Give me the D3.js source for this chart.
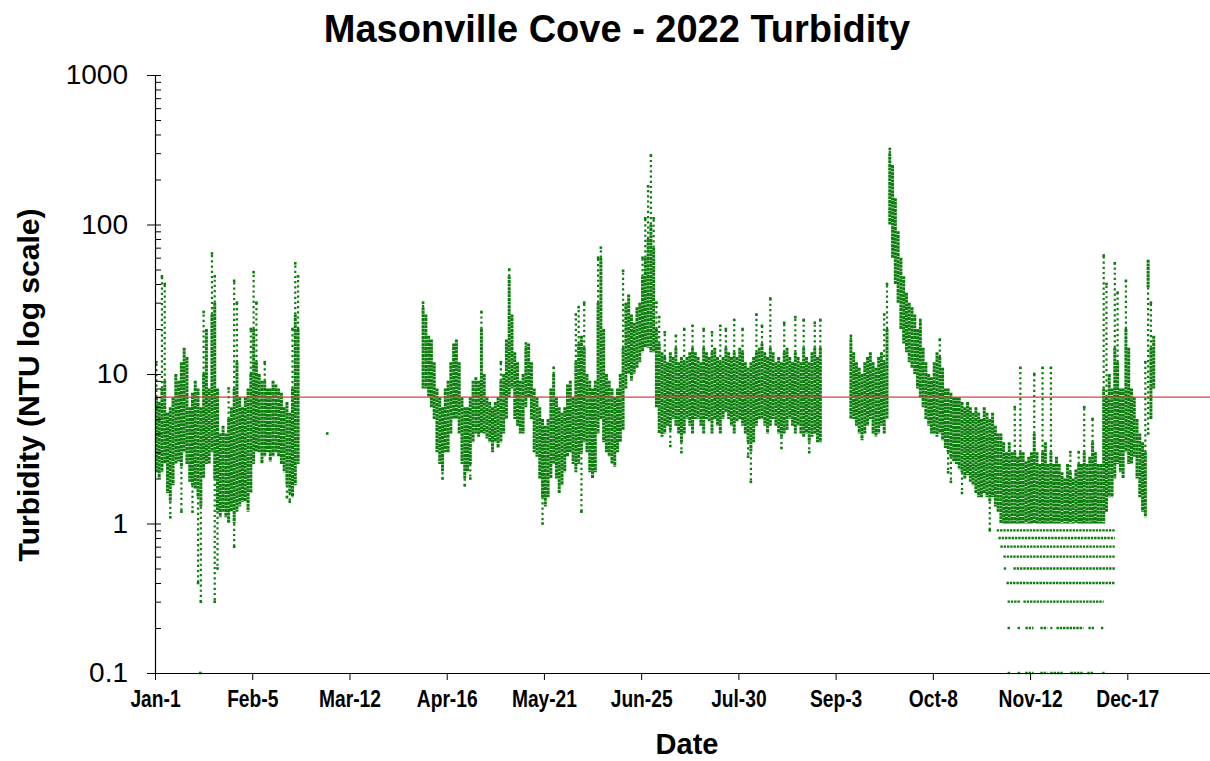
<!DOCTYPE html>
<html><head><meta charset="utf-8">
<script src="https://cdn.jsdelivr.net/npm/d3@7"></script>
<style>body{margin:0;background:#fff}</style>
</head><body>
<svg id="chart" width="1210" height="761"></svg>
<script>
// ---------- data ----------
const titleText = "Masonville Cove - 2022 Turbidity";
const xTitle = "Date";
const yTitle = "Turbidity (NTU log scale)";
const xTickDays = [0, 35, 70, 105, 140, 175, 210, 245, 280, 315, 350];
const xTickLabels = ["Jan-1", "Feb-5", "Mar-12", "Apr-16", "May-21", "Jun-25", "Jul-30", "Sep-3", "Oct-8", "Nov-12", "Dec-17"];
const yTickValues = [0.1, 1, 10, 100, 1000];
const yTickLabels = ["0.1", "1", "10", "100", "1000"];
const threshold = 7;

// daily dense range (low / high NTU), segment A starts Jan-1 (day 0)
const segAStart = 0;
const segALow  = [2.2,2.0,2.2,2.5,1.6,1.4,1.8,2.5,2.6,2.4,3,2.5,1.9,1.8,1.7,1.5,1.3,2,2.5,2.5,3,2,1.2,1.1,1.2,1.1,1.0,1.2,1.0,1.2,1.3,1.4,1.4,1.2,1.6,2.5,3,3,2.5,2.8,3,2.6,2.8,3,2.8,2.5,2.2,1.8,1.6,1.5,1.8,2.5];
const segAHigh = [7,6.5,8,9,5.5,6,7,10,9,12,15,13,6,7.5,9,8,6,10,20,8,25,30,8,4,4.5,4,5,6,8,12,7,6,7,8,10,20,12,10,9,9,8,8,9,8.5,8,7.5,6,6.5,5.5,8,25,20];

// segment B starts day 96 (early April)
const segBStart = 96;
const segBLow  = [8,8,7,6,5,3,2.5,2.2,3,3,4,5,5,4,2.5,2.0,2.2,2.5,3.5,4,3.8,4,4,3.7,3.5,3,3.5,3.2,3.5,4,5,7,8,5,4.5,4,4,6,7,5,3,2.8,2,1.5,1.3,1.5,2,2.5,2,1.6,1.8,2.2,2.8,3,2.5,2.2,2.5,3,3.5,3,2.2,2,2.2,4,5,3.5,3,2.8,2.5,2.4,3,3.5,4.2,8,10,9,10,11,12,14,15,15,14,14,6];
const segBHigh = [28,25,18,17,12,8,7,6,8,9,12,16,17,12,7,6,6,7,9,9.5,9,20,10,7,6.5,6,6.5,7,9,10,17,45,25,14,12,9,10,15,16,12,8,7,6,5,4.5,5,8,10,7,6,5.5,6,8.5,9,7,12,16,18,15,10,9,8,9,30,60,20,10,9,8,7,8,10,15,30,34,25,22,28,30,45,60,80,100,70,20];

// segment C starts day 181 (summer)
const segCStart = 181;
const segCLow  = [4,3.8,4,4.5,4.2,5,4.5,4,3.5,4,5,4.5,4,5,5,4.5,4,5,4.8,4,5,4.5,4,5,5.5,5,4.5,4,4.8,5,4.5,4,3.5,3,3.5,4.5,5,5,4.5,4,4.5,5,4.5,4,3.8,4,4.2,5,4.5,4,4.5,4,3.8,4,3.5,3.8,4,3.5,3.5];
const segCHigh = [16,14,13,12,14,13,15,12,13,12,13,14,15,14,13,12,15,14,13,14,15,13,12,13,15,14,13,14,13,15,14,12,11,12,13,14,15,16,14,13,15,14,12,13,12,14,15,13,12,14,13,12,15,13,12,14,15,13,15];

// segment D starts day 250 (September to December)
const segDStart = 250;
const segDLow  = [5,5,4.5,4,3.6,4,4.5,5,4,3.8,4,4.5,4,5,100,60,40,30,20,16,14,12,11,10,8,7,6,5,4.5,4,4,3.8,4,3.6,3.2,3,2.8,2.6,2.5,2.3,2.2,2.0,2.1,1.9,1.8,1.6,1.5,1.5,1.6,1.5,1.4,1.5,1.3,1.2,
  1,1,1,1,1,1,1,1,1,1,1,1,1,1,1,1,1,1,1,1,1,1,1,1,1,1,1,1,1,1,1,1,1,1,1,1,1,1.0,1.2,1.5,1.5,2,2.5,2.2,2,3,2.5,2.5,2.8,2,1.5,1.2,1.1,38,5,8];
const segDHigh = [17,14,12,11,10,12,13,14,12,11,13,14,12,20,300,250,150,90,60,45,35,30,28,25,20,22,15,12,10,9.5,12,14,13,11,8,8,7.5,7,7,7,6.5,6,6.5,6,5.5,6,5.5,5,6,5.5,5,5.5,4.5,4,
  4,3.5,3,3.5,3,3,2.8,3,3,2.6,2.8,3,4,3,2.5,3,3.5,2.5,3,2.5,2.8,2.5,2.2,2,2.5,2.2,2,2.3,2.5,2.5,3,2.5,2.8,3.5,3,2.5,2.5,8,7,10,8,15,12,8,8,20,15,8,7,5,4,3.5,3,58,15,18];

// sparse excursions beyond the dense range: [day, NTU]
const spikes = [[0,12],[2,45],[3,40],[5,1.1],[9,1.2],[13,1.2],[15,0.4],[16,0.3],[17,26],[20,64],[21,45],[21,0.3],[22,0.5],[26,8],[28,42],[28,0.7],[29,30],[34,20],[35,48],[36,30],[39,12],[47,1.5],[48,1.4],[49,20],[50,55],[51,45],
  [96,30],[103,2.0],[111,1.8],[113,2.0],[117,26],[124,12],[127,50],[133,16],[139,1.0],[143,11],[151,25],[152,28],[153,1.2],[154,30],[159,60],[160,70],[168,49],[175,60],[176,110],[177,180],[178,290],[179,110],[180,30],
  [181,24],[183,19],[185,3.3],[187,18],[189,3.0],[190,20],[193,21],[197,20],[200,19],[203,21],[205,20],[208,23],[211,20],[213,2.8],[214,1.9],[216,25],[218,21],[221,32],[225,3.2],[226,22],[230,24],[233,23],[235,3.0],[237,22],[239,23],
  [250,18],[262,25],[263,40],[264,320],[275,23],[282,17],[285,2.2],[286,1.9],[290,1.6],[300,0.9],[309,6],[311,11],[316,10],[319,11],[322,11],[329,3],[332,3],[334,6],[337,5],[341,62],[342,40],[345,55],[346,35],[349,42],[356,12],[357,4],[358,30]];

// isolated single readings: [day, NTU]
const singles = [[15.8, 0.1], [61.5, 4.0]];

// rows of readings rounded to 0.1 NTU in Nov-Dec: [NTU, fromDay, toDay]
const quantRows = [
  [0.9,303,345.5],[0.8,303.6,345.5],[0.7,304.3,345.5],[0.6,305.4,345.5],
  [0.5,305.5,306.5],[0.5,309,345.5],[0.4,306.5,345.5],
  [0.3,306.9,311.5],[0.3,312.6,341.5],
  [0.2,306.9,308],[0.2,310.5,311.5],[0.2,313.3,316.2],[0.2,318.7,321.2],[0.2,322.3,323],[0.2,324.5,334.2],[0.2,336,338],[0.2,340.5,341.5],
  [0.1,306.9,307.9],[0.1,310.5,311.5],[0.1,313.3,316.2],[0.1,318.7,321.2],[0.1,322.3,327],[0.1,329.5,334.2],[0.1,335.6,337.8],[0.1,341,342]
];

// ---------- drawing ----------
const GREEN = "#0b7d0b";
const FONT = "Liberation Sans, Arial, sans-serif";
const svg = d3.select("#chart");
const x = d3.scaleLinear().domain([0, 380]).range([155, 155 + 380 * 2.778]);
const y = d3.scaleLog().domain([0.1, 1000]).range([673, 75]);

function buildDays(start, lo, hi) {
  return lo.map((l, i) => ({ day: start + i, lo: l, hi: hi[i] }));
}
const days = [].concat(
  buildDays(segAStart, segALow, segAHigh),
  buildDays(segBStart, segBLow, segBHigh),
  buildDays(segCStart, segCLow, segCHigh),
  buildDays(segDStart, segDLow, segDHigh)
);
const dayMap = new Map(days.map(d => [d.day, d]));

const plot = svg.append("g");

// quantized rows
plot.selectAll("line.row").data(quantRows).join("line")
  .attr("x1", d => x(d[1])).attr("x2", d => x(d[2]))
  .attr("y1", d => y(d[0])).attr("y2", d => y(d[0]))
  .attr("stroke", GREEN).attr("stroke-width", 2.4).attr("stroke-dasharray", "2.4 0.9");

// sparse excursions
plot.selectAll("line.spike").data(spikes).join("line")
  .attr("x1", d => x(d[0] + 0.5)).attr("x2", d => x(d[0] + 0.5))
  .attr("y1", d => { const r = dayMap.get(d[0]); return y(d[1] > r.hi ? r.hi : r.lo); })
  .attr("y2", d => y(d[1]))
  .attr("stroke", GREEN).attr("stroke-width", 2.2).attr("stroke-dasharray", "2.2 3");
plot.selectAll("rect.tip").data(spikes.concat(singles)).join("rect")
  .attr("x", d => x(d[0] + 0.5) - 1.3).attr("y", d => y(d[1]) - 1.3)
  .attr("width", 2.6).attr("height", 2.6).attr("fill", GREEN);

// dense daily ranges
plot.selectAll("line.core").data(days).join("line")
  .attr("x1", d => x(d.day + 0.5)).attr("x2", d => x(d.day + 0.5))
  .attr("y1", d => y(d.hi)).attr("y2", d => y(d.lo))
  .attr("stroke", GREEN).attr("stroke-width", 3).attr("stroke-dasharray", "3 0.6");

// threshold line
svg.append("line")
  .attr("x1", x(0)).attr("x2", 1210).attr("y1", y(threshold)).attr("y2", y(threshold))
  .attr("stroke", "#d0433f").attr("stroke-width", 1.3);

// y axis (labels + outer major ticks)
const yAxis = svg.append("g").attr("transform", `translate(${x(0)},0)`)
  .call(d3.axisLeft(y).tickValues(yTickValues).tickFormat((d, i) => yTickLabels[i])
        .tickSize(8).tickSizeOuter(0).tickPadding(19));
yAxis.selectAll("text").attr("font-family", FONT).attr("font-size", 28).attr("fill", "#000");
yAxis.selectAll("line").attr("stroke", "#000");
yAxis.select(".domain").attr("stroke", "#000").attr("stroke-width", 1.2);

// inner ticks: majors and minors
const minorVals = [];
[0.1, 1, 10, 100].forEach(b => { for (let k = 1; k <= 9; k++) minorVals.push(b * k); });
const yInner = svg.append("g").attr("transform", `translate(${x(0)},0)`)
  .call(d3.axisRight(y).tickValues(minorVals.concat([1000])).tickFormat("").tickSize(6).tickSizeOuter(0));
yInner.select(".domain").remove();
yInner.selectAll("line").attr("stroke", "#000");

// x axis
const xAxis = svg.append("g").attr("transform", `translate(0,${y(0.1)})`)
  .call(d3.axisBottom(x).tickValues(xTickDays).tickFormat((d, i) => xTickLabels[i])
        .tickSize(7).tickSizeOuter(0).tickPadding(10));
xAxis.select(".domain").attr("stroke", "#000").attr("stroke-width", 1.2);
xAxis.selectAll("line").attr("stroke", "#000");
xAxis.selectAll("text")
  .attr("font-family", FONT).attr("font-weight", "bold")
  .attr("font-size", 24).attr("fill", "#000").attr("transform", "scale(0.8,1)");

// titles
svg.append("text").attr("x", 617).attr("y", 42).attr("text-anchor", "middle")
  .attr("font-family", FONT).attr("font-weight", "bold")
  .attr("font-size", 38).text(titleText);
svg.append("text").attr("x", 687).attr("y", 754).attr("text-anchor", "middle")
  .attr("font-family", FONT).attr("font-weight", "bold")
  .attr("font-size", 29).text(xTitle);
svg.append("text").attr("transform", "translate(39,385) rotate(-90)").attr("text-anchor", "middle")
  .attr("font-family", FONT).attr("font-weight", "bold")
  .attr("font-size", 30).text(yTitle);
</script>
</body></html>
